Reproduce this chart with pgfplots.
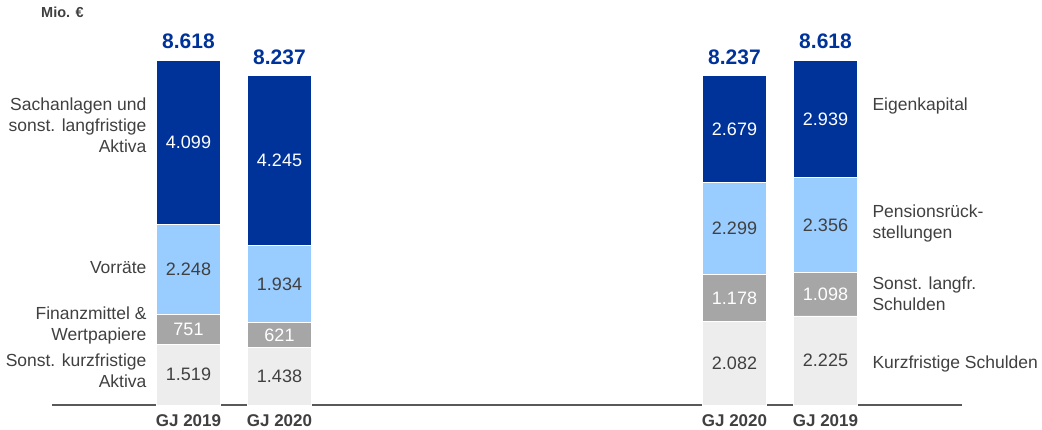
\documentclass[border=0pt]{standalone}
\usepackage{pgfplots}
\usepackage{pgfplotstable}
\pgfplotsset{compat=1.18}
\usepackage{fontspec}
\setmainfont{Liberation Sans}
\definecolor{dblue}{HTML}{003399}
\definecolor{lblue}{HTML}{99CCFF}
\definecolor{mgray}{HTML}{A6A6A6}
\definecolor{lgray}{HTML}{EDEDED}
\definecolor{tgray}{HTML}{404040}
\definecolor{agray}{HTML}{595959}
\pgfplotstableread{
x y
0 1519
1 1438
6 2082
7 2225
}\sonstkurz
\pgfplotstableread{
x y
0 751
1 621
6 1178
7 1098
}\finanz
\pgfplotstableread{
x y
0 2248
1 1934
6 2299
7 2356
}\vorraete
\pgfplotstableread{
x y
0 4099
1 4245
6 2679
7 2939
}\sachan
\pgfplotstableread{
x y
0 8618
1 8237
6 8237
7 8618
}\totals
\tikzset{lbl/.style={text=tgray, font=\fontsize{17.5}{21}\selectfont, inner sep=0pt}}
\pgfplotsset{
  seglabel/.style={
    nodes near coords,
    every node near coord/.append style={anchor=center, text=#1, font=\fontsize{18}{20}\selectfont, inner sep=0pt},
  },
  geom/.style={
    at={(0pt,0pt)}, anchor=south west,
    scale only axis, width=910pt, height=405pt,
    xmin=-1.5, xmax=8.5, ymin=0, ymax=10125,
    enlargelimits=false, clip=false,
    /pgf/number format/1000 sep={.},
    /pgf/number format/assume math mode=true,
  },
}
\begin{document}
\begin{tikzpicture}
\useasboundingbox (-52pt,-25pt) rectangle (990pt,405pt);
\begin{axis}[
  geom,
  ybar stacked, bar width=64pt,
  axis x line=bottom, axis y line=none,
  axis line style={-, agray, line width=1.3pt},
  xtick={0,1,6,7},
  xticklabels={GJ 2019, GJ 2020, GJ 2020, GJ 2019},
  major tick length=0pt,
  xticklabel style={font=\bfseries\fontsize{17}{20}\selectfont, text=tgray, yshift=-6pt},
  ytick=\empty,
]
\addplot[fill=lgray, draw=white, line width=0.8pt, seglabel=tgray] table[x=x,y=y] {\sonstkurz};
\addplot[fill=mgray, draw=white, line width=0.8pt, seglabel=white] table[x=x,y=y] {\finanz};
\addplot[fill=lblue, draw=white, line width=0.8pt, seglabel=tgray] table[x=x,y=y] {\vorraete};
\addplot[fill=dblue, draw=white, line width=0.8pt, seglabel=white] table[x=x,y=y] {\sachan};
\node[lbl, anchor=east, align=right, xshift=-10pt] at (axis cs:-0.35,7000) {Sachanlagen und\\sonst. langfristige\\Aktiva};
\node[lbl, anchor=east, align=right, xshift=-10pt] at (axis cs:-0.35,3437) {Vorräte};
\node[lbl, anchor=east, align=right, xshift=-10pt] at (axis cs:-0.35,2000) {Finanzmittel \&\\Wertpapiere};
\node[lbl, anchor=east, align=right, xshift=-10pt] at (axis cs:-0.35,850) {Sonst. kurzfristige\\Aktiva};
\node[lbl, anchor=west, align=left, xshift=15pt] at (axis cs:7.35,7487) {Eigenkapital};
\node[lbl, anchor=west, align=left, xshift=15pt] at (axis cs:7.35,4537) {Pensionsrück-\\stellungen};
\node[lbl, anchor=west, align=left, xshift=15pt] at (axis cs:7.35,2775) {Sonst. langfr.\\Schulden};
\node[lbl, anchor=west, align=left, xshift=15pt] at (axis cs:7.35,1037) {Kurzfristige Schulden};
\end{axis}
\begin{axis}[geom, hide axis]
\addplot[draw=none, mark=none, nodes near coords,
  every node near coord/.append style={anchor=south, inner sep=0pt, yshift=11pt, text=dblue, font=\bfseries\fontsize{21}{24}\selectfont}]
  table[x=x,y=y] {\totals};
\end{axis}
\node[anchor=base west, inner sep=0pt, text=tgray, font=\bfseries\fontsize{14.5}{16}\selectfont] at (-11pt,387pt) {Mio. €};
\end{tikzpicture}
\end{document}
